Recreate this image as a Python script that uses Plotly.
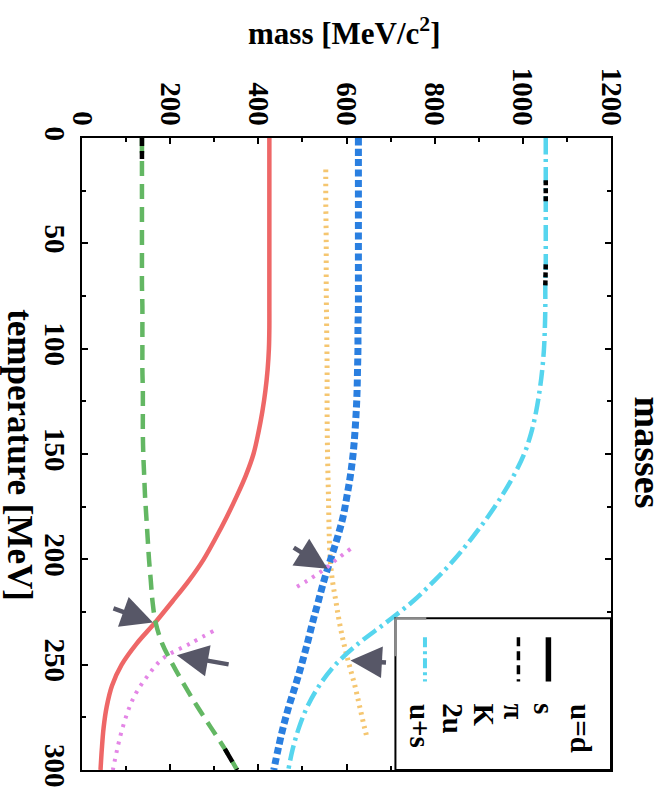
import plotly.graph_objects as go

# Temperature grid [MeV]
temperature = [0, 10, 20, 30, 40, 50, 60, 70, 80, 90, 100, 110, 120, 130, 140, 150,
               160, 170, 180, 190, 200, 210, 220, 230, 240, 250, 260, 270, 280, 290, 300]

# Constituent / meson masses [MeV/c^2]
mass_ud = [425, 425, 425, 425, 425, 425, 425, 425, 425, 425, 424, 421, 416, 409, 400, 389,
           372, 351, 328, 303, 276, 243, 205, 166, 124, 90, 68, 56, 49, 45, 42]
mass_s = [627, 627, 627, 627, 627, 627, 627, 627, 627, 626, 626, 625, 624, 622, 619, 615,
          609, 601, 592, 579, 564, 549, 536, 523, 511, 498, 484, 469, 456, 445, 435]
mass_pi = [136, 136, 136, 136, 136, 136, 136, 136, 137, 137, 137, 137, 138, 138, 138, 139,
           141, 143, 146, 149, 152, 156, 160, 167, 182, 206, 233, 262, 293, 324, 352]
mass_us = [1052, 1052, 1052, 1052, 1052, 1052, 1052, 1051, 1051, 1050, 1048, 1044, 1038, 1030,
           1019, 1003, 980, 952, 920, 884, 845, 800, 750, 690, 627, 575, 538, 511, 492, 478, 468]

temperature_K = [15, 30, 50, 70, 90, 110, 130, 150, 170, 190, 200, 210, 220, 230, 240, 250,
                 260, 270, 280, 285]
mass_K = [553, 553, 554, 554, 555, 556, 556, 557, 559, 561, 563, 568, 576, 584, 594, 606,
          619, 630, 641, 647]

temperature_2u = [195, 200, 205, 210, 214, None, 234, 240, 247, 255, 263, 270, 280, 290, 300]
mass_2u = [609, 578, 548, 512, 480, None, 298, 245, 184, 150, 124, 108, 92, 80, 70]

# Legend entries
legend_labels = ["u=d", "s", "π", "K", "2u", "u+s"]
mass_ticks = [0, 200, 400, 600, 800, 1000, 1200]
temp_ticks = [0, 50, 100, 150, 200, 250, 300]

SERIF = "Liberation Serif"
RED = "#ee6767"
BLUE = "#2a7fe0"
GREEN = "#63b763"
ORANGE = "#f5c670"
MAGENTA = "#e486e6"
CYAN = "#56d5ee"
ARROW = "#575767"

fig = go.Figure()


def curve(m, t, color, width, dash):
    fig.add_trace(go.Scatter(x=m, y=t, mode="lines", showlegend=False, hoverinfo="skip",
                             line=dict(color=color, width=width, dash=dash, shape="spline",
                                       smoothing=1.0),
                             connectgaps=False))


curve(mass_ud, temperature, RED, 4.5, "solid")
curve(mass_K, temperature_K, ORANGE, 5, "2.5px,4.5px")
curve(mass_s, temperature, BLUE, 7, "7px,3.5px")
curve(mass_pi, temperature, GREEN, 4.5, "15px,8px")
curve(mass_2u, temperature_2u, MAGENTA, 4, "3px,6px")
curve(mass_us, temperature, CYAN, 4.5, "16px,5px,3px,5px")

# black pieces left over from the monochrome version of the plot
curve(mass_pi[0:2], temperature[0:2], "black", 4.5, "8px,5px")
curve(mass_pi[29:], temperature[29:], "black", 4.5, "15px,8px")
curve(mass_us[2:4], temperature[2:4], "black", 4.5, "5px,3px")
curve(mass_us[6:8], temperature[6:8], "black", 4.5, "5px,3px")

# arrows marking the crossing points: (head mass, head T, tail mass, tail T)
arrows = [(557, 204.5, 477, 194), (161, 230, 68, 223), (215, 245.5, 336, 250), (609, 248, 693, 249)]
for hx, hy, tx, ty in arrows:
    fig.add_annotation(x=hx, y=hy, ax=tx, ay=ty, xref="x", yref="y", axref="x", ayref="y",
                       showarrow=True, arrowhead=2, arrowsize=1.4, arrowwidth=4.5,
                       arrowcolor=ARROW, text="")

# legend box
lg_m0, lg_m1, lg_t0, lg_t1 = 711, 1200, 228, 300
fig.add_shape(type="rect", x0=lg_m0, x1=lg_m1, y0=lg_t0, y1=lg_t1, xref="x", yref="y",
              line=dict(color="black", width=2), fillcolor="white", layer="above")
fig.add_shape(type="line", x0=lg_m0, x1=lg_m0 + 70, y0=lg_t0, y1=lg_t0, xref="x", yref="y",
              line=dict(color="#8a8a8a", width=2.5), layer="above")
fig.add_shape(type="line", x0=lg_m0, x1=lg_m0, y0=lg_t0, y1=lg_t0 + 18, xref="x", yref="y",
              line=dict(color="#8a8a8a", width=2.5), layer="above")

legend_m = [1132, 1048, 980, 911, 841, 768]
sample_styles = [None, ("black", 5.5, "solid"), ("black", 3.5, "9px,5px"), None, None,
                 (CYAN, 4, "10px,4px,3px,4px")]
for lab, lm, st in zip(legend_labels, legend_m, sample_styles):
    fig.add_annotation(x=lm, y=267.5, xref="x", yref="y", text=lab, textangle=90,
                       showarrow=False, xanchor="center", yanchor="top",
                       font=dict(family=SERIF, size=29, color="black", weight="bold"))
    if st is not None:
        fig.add_shape(type="line", x0=lm + 10, x1=lm + 10, y0=237, y1=258, xref="x", yref="y",
                      line=dict(color=st[0], width=st[1], dash=st[2]), layer="above")

# titles
fig.add_annotation(x=0.495, y=1.169, xref="paper", yref="paper", showarrow=False,
                   xanchor="center", yanchor="middle",
                   text="mass [MeV/c<sup>2</sup>]",
                   font=dict(family=SERIF, size=31, color="black", weight="bold"))
fig.add_annotation(x=-0.117, y=0.498, xref="paper", yref="paper", showarrow=False, textangle=90,
                   xanchor="center", yanchor="middle", borderpad=0,
                   text="temperature [MeV]",
                   font=dict(family=SERIF, size=35, color="black", weight="bold"))
fig.add_annotation(x=1.069, y=0.503, xref="paper", yref="paper", showarrow=False, textangle=90,
                   xanchor="center", yanchor="middle", borderpad=0,
                   text="masses", font=dict(family=SERIF, size=38, color="black", weight="bold"))

axis_common = dict(showgrid=False, zeroline=False, showline=True, linecolor="black", linewidth=2,
                   mirror="allticks", ticks="inside", ticklen=6, tickwidth=1.5, tickcolor="black",
                   tickangle=90,
                   tickfont=dict(family=SERIF, size=29, color="black", weight="bold"))

fig.update_layout(
    width=669, height=799,
    margin=dict(l=82, r=58, t=138, b=23),
    paper_bgcolor="white", plot_bgcolor="white",
    xaxis=dict(range=[0, 1200], side="top", tickvals=mass_ticks,
               minor=dict(dtick=100, ticks="inside", ticklen=4, tickcolor="black"),
               **axis_common),
    yaxis=dict(range=[300, 0], tickvals=temp_ticks,
               minor=dict(dtick=25, ticks="inside", ticklen=4, tickcolor="black"),
               **axis_common),
)

fig.write_html("out.html")
